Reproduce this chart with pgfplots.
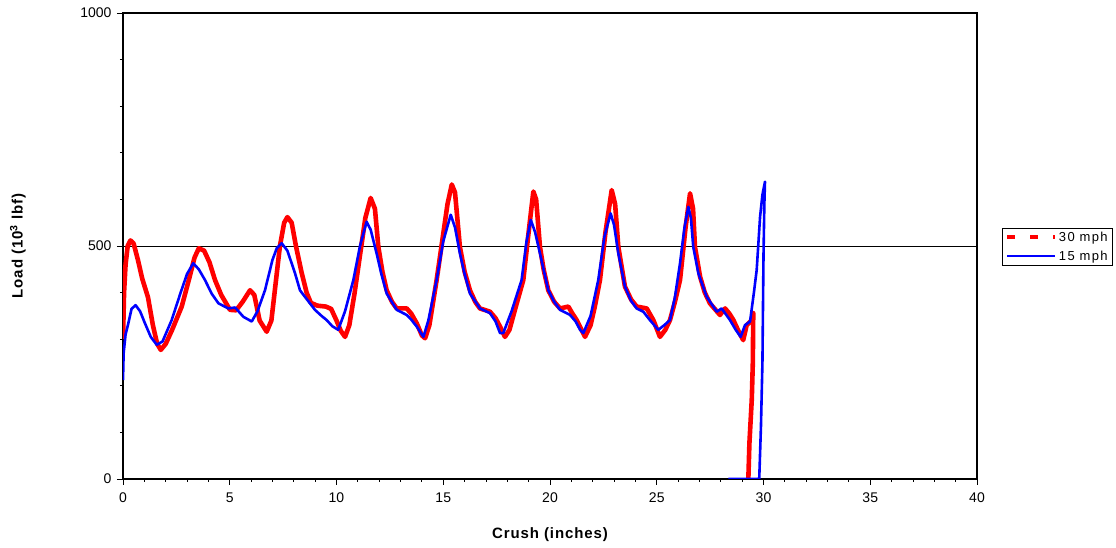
\documentclass[border=0pt]{standalone}
\usepackage{fontspec}
\setmainfont{Liberation Sans}
\newfontfamily\labfont[LetterSpace=6]{Liberation Sans}
\newfontfamily\legfont[LetterSpace=10]{Liberation Sans}
\usepackage{pgfplots}
\pgfplotsset{compat=1.18}

\begin{document}
\begin{tikzpicture}
\path[use as bounding box] (0,0) rectangle (1116pt,548pt);
\begin{axis}[
    at={(123pt,69pt)}, anchor=origin,
    scale only axis,
    width=854pt, height=466pt,
    xmin=0, xmax=40, ymin=0, ymax=1000,
    xtick={0,5,...,40}, minor x tick num=4,
    ytick={0,500,1000}, minor y tick num=4,
    xtick pos=bottom, ytick pos=left,
    tick align=outside,
    major tick length=6pt, minor tick length=3pt,
    every tick/.style={black, line width=0.9pt},
    axis line style={black, line width=1.3pt},
    ymajorgrids=true,
    grid style={black, line width=0.9pt},
    /pgf/number format/assume math mode=true,
    /pgf/number format/1000 sep={},
    tick label style={font=\fontsize{14}{16}\selectfont},
    yticklabel style={xshift=-2pt},
    xticklabel style={yshift=-4pt},
    xlabel={\labfont\bfseries Crush (inches)},
    ylabel={\labfont\bfseries Load (10\textsuperscript{3} lbf)},
    every axis x label/.style={at={(axis description cs:0.5,-0.12)}, anchor=center, font=\fontsize{15}{17}\selectfont},
    every axis y label/.style={at={(axis description cs:-0.123,0.5)}, rotate=90, anchor=center, font=\fontsize{15}{17}\selectfont},
    legend style={at={(1.029,0.539)}, anchor=north west, draw=black, line width=0.8pt,
        font=\legfont\fontsize{13}{15}\selectfont, inner xsep=3pt, inner ysep=1.5pt, row sep=4pt,
        /tikz/every even column/.append style={column sep=1pt}},
    legend cell align=left,
    legend image code/.code={\draw[#1] (0pt,0pt) -- (48pt,0pt);},
]
\addlegendimage{red, line width=3.8pt, dash pattern=on 8pt off 15pt}
\addlegendentry{30 mph}
\addlegendimage{blue, line width=1.8pt}
\addlegendentry{15 mph}

% 30 mph
\addplot[red, line width=4.6pt, line join=round, forget plot] coordinates {
(0,300) (0.05,400) (0.12,460) (0.22,500) (0.35,512) (0.5,505) (0.7,470) (0.9,430)
(1.17,390) (1.4,330) (1.6,290) (1.77,277) (2.0,290) (2.3,320) (2.75,370) (3.1,430)
(3.35,475) (3.55,495) (3.8,490) (4.05,465) (4.31,427) (4.6,395) (5.01,363) (5.3,362)
(5.6,380) (5.95,405) (6.15,395) (6.4,340) (6.73,316) (6.95,340) (7.15,420) (7.35,500)
(7.55,550) (7.7,562) (7.9,550) (8.1,500) (8.37,442) (8.6,400) (8.8,378) (9.1,372)
(9.5,370) (9.75,365) (10.0,340) (10.2,318) (10.4,305) (10.6,330) (10.85,400) (11.1,480)
(11.35,560) (11.6,603) (11.8,580) (11.96,498) (12.15,445) (12.35,405) (12.6,380) (12.82,366)
(13.29,366) (13.5,355) (13.76,334) (14.0,308) (14.15,302) (14.35,330) (14.69,427) (14.95,510)
(15.2,590) (15.4,632) (15.55,615) (15.78,498) (16.0,445) (16.25,405) (16.5,380) (16.72,366)
(17.19,359) (17.45,345) (17.66,327) (17.89,305) (18.1,320) (18.4,370) (18.75,427) (19.0,530)
(19.22,617) (19.35,600) (19.53,498) (19.7,450) (19.92,405) (20.2,380) (20.47,366) (20.86,370)
(21.05,355) (21.25,341) (21.64,305) (21.9,330) (22.1,370) (22.34,427) (22.6,530) (22.89,620)
(23.05,590) (23.2,498) (23.51,413) (23.8,385) (24.06,370) (24.53,366) (24.84,341) (25.15,305)
(25.4,320) (25.62,341) (25.85,380) (26.09,427) (26.35,540) (26.56,613) (26.7,580) (26.79,498)
(27.03,434) (27.25,400) (27.49,377) (27.96,352) (28.2,366) (28.4,355) (28.59,341) (28.8,320)
(29.05,298) (29.21,330) (29.45,341) (29.52,356) (29.5,250) (29.45,170) (29.34,77) (29.29,0)
};

% 15 mph
\addplot[blue, line width=2.6pt, line join=round, forget plot] coordinates {
(0,212) (0.03,270) (0.12,310) (0.25,334) (0.4,365) (0.59,373) (0.8,360) (1.03,334)
(1.3,305) (1.58,288) (1.85,295) (2.28,341) (2.7,400) (3.0,440) (3.29,463) (3.55,450)
(3.84,427) (4.15,398) (4.47,377) (4.93,366) (5.25,368) (5.64,348) (6.03,338) (6.3,360)
(6.65,405) (7.0,470) (7.2,495) (7.43,506) (7.7,490) (8.06,441) (8.29,405) (8.52,391)
(8.99,363) (9.3,350) (9.54,341) (9.8,328) (10.08,320) (10.4,360) (10.79,427) (11.1,500)
(11.41,552) (11.6,535) (11.88,484) (12.1,440) (12.35,398) (12.82,363) (13.29,352) (13.5,342)
(13.76,327) (14.07,305) (14.3,340) (14.69,427) (15.0,510) (15.35,567) (15.55,540) (15.78,484)
(16.0,440) (16.25,398) (16.72,366) (17.19,356) (17.45,338) (17.66,313) (17.81,313) (18.2,360)
(18.67,427) (18.9,510) (19.1,556) (19.3,530) (19.53,484) (19.92,405) (20.2,380) (20.47,363)
(20.94,352) (21.2,338) (21.41,320) (21.56,313) (21.9,350) (22.26,427) (22.55,520) (22.84,570)
(23.0,545) (23.2,484) (23.51,413) (23.8,382) (24.06,366) (24.37,359) (24.68,341) (25.07,320)
(25.35,330) (25.62,341) (25.85,390) (26.09,463) (26.3,540) (26.48,584) (26.6,560) (26.71,498)
(26.95,441) (27.34,391) (27.81,359) (28.04,366) (28.43,341) (28.7,320) (28.93,305) (29.13,330)
(29.37,338) (29.55,400) (29.68,448) (29.84,563) (29.95,610) (30.07,638) (30.04,590) (30.0,480)
(29.95,250) (29.88,112) (29.8,0) (28.35,0)
};
\end{axis}
\end{tikzpicture}
\end{document}
